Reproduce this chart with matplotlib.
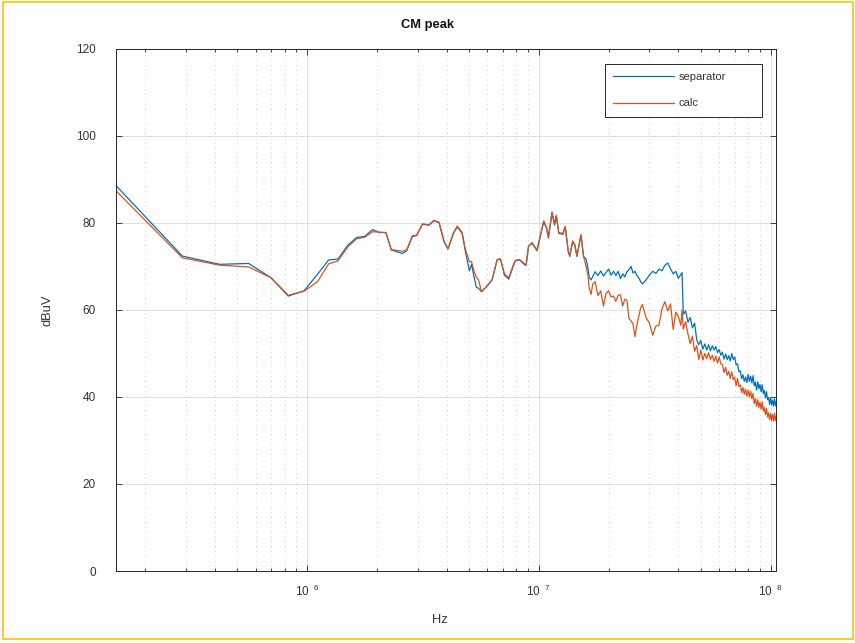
import matplotlib.pyplot as plt
from matplotlib.patches import Rectangle
from matplotlib.ticker import FixedLocator, FixedFormatter, LogLocator, NullFormatter

plt.rcParams['font.family'] = ['Liberation Sans', 'DejaVu Sans']
plt.rcParams['mathtext.fontset'] = 'custom'
plt.rcParams['mathtext.rm'] = 'Liberation Sans'

# frequency points in MHz
freq_mhz = [
    0.15, 0.29, 0.42, 0.56, 0.70, 0.83, 0.97, 1.11, 1.24, 1.36,
    1.50, 1.64, 1.77, 1.92, 2.05, 2.19, 2.31, 2.58, 2.69, 2.85,
    2.97, 3.15, 3.36, 3.53, 3.71, 3.90, 4.06, 4.28, 4.45, 4.67,
    4.82, 5.02, 5.13, 5.26, 5.38, 5.50, 5.66, 5.99, 6.29, 6.61,
    6.83, 7.11, 7.42, 7.69, 7.92, 8.27, 8.60, 8.81, 9.03, 9.35,
    9.82, 10.2, 10.5, 10.8, 11.0, 11.4, 11.7, 11.9, 12.2, 12.7,
    13.0, 13.4, 13.6, 14.0, 14.3, 14.6, 15.2, 15.6, 16.0, 16.3,
    16.5, 16.8, 17.1,
    17.5, 18, 18.5, 19, 19.5, 20, 20.5, 21, 21.5, 22,
    22.5, 23, 23.5, 24, 24.5, 25, 25.5, 26, 26.5, 27,
    27.5, 28,
    29, 30, 31, 32, 33, 34, 35, 36, 37, 38, 39, 40, 41, 41.5,
    42, 43, 44, 45, 46, 47, 48, 49, 50, 51, 52, 53, 54, 55, 56, 57, 58, 59,
    60, 61, 62, 63, 64, 65, 66, 67, 68, 69, 70, 71, 72, 73, 74, 75, 76, 77,
    78, 79, 80, 81, 82, 83, 84, 85, 86, 87, 88, 89, 90, 91, 92, 93, 94, 95,
    96, 97, 98, 99, 100, 101, 102, 103, 104, 105, 106,
]

separator = [
    88.6, 72.4, 70.5, 70.7, 67.4, 63.2, 64.4, 68.2, 71.5, 71.7,
    74.9, 76.7, 76.9, 78.5, 77.8, 77.8, 73.8, 73.0, 73.6, 76.9,
    77.1, 79.7, 79.5, 80.5, 80.1, 75.7, 74.0, 77.6, 79.1, 77.6,
    73.5, 69.0, 70.5, 67.5, 65.2, 65.0, 64.2, 65.5, 66.9, 71.5,
    71.7, 68.0, 67.1, 69.5, 71.3, 71.5, 70.6, 70.2, 74.6, 75.5,
    73.6, 77.4, 80.3, 78.8, 76.5, 82.3, 79.5, 81.6, 77.6, 77.4,
    79.1, 73.4, 72.3, 75.7, 74.9, 72.3, 77.2, 72.3, 71.7, 69.5,
    67.5, 66.9, 67.7,
    68.8, 67.9, 69.0, 67.8, 68.6, 69.4, 68.0, 68.9, 67.9, 68.9,
    67.2, 68.3, 67.6, 68.8, 69.3, 70.0, 68.5, 68.9, 67.9, 67.4,
    66.5, 66.0,
    66.9, 68.0, 68.9, 68.4, 69.4, 69.0, 70.3, 70.8, 69.5, 68.3, 68.9, 67.3, 68.2, 68.6,
    59.0, 59.8, 57.2, 58.3, 55.9, 57.0, 53.2, 52.0, 53.0, 51.0, 52.2, 50.8, 52.0, 50.6, 51.8, 50.8, 51.6, 50.2,
    50.9, 49.6, 50.3, 48.7, 49.9, 48.6, 49.5, 48.3, 50.0, 48.6, 49.2, 47.4, 47.6, 45.8, 46.0, 44.2, 45.1, 43.6,
    44.6, 43.3, 45.2, 43.6, 44.8, 43.2, 44.9, 42.6, 43.4, 41.6, 43.5, 41.9, 42.9, 41.2, 42.8, 40.8, 41.5, 39.8,
    41.2, 39.4, 39.9, 38.3, 39.8, 38.2, 39.3, 37.9, 39.6, 38.0, 38.9,
]

calc = [
    87.4, 72.0, 70.3, 69.9, 67.4, 63.4, 64.3, 66.5, 70.6, 71.3,
    74.5, 76.4, 76.7, 78.0, 77.9, 77.8, 73.9, 73.5, 73.8, 77.1,
    77.2, 79.8, 79.6, 80.6, 80.2, 75.9, 74.1, 77.7, 79.3, 77.8,
    74.0, 71.1, 71.1, 68.8, 67.5, 66.9, 64.2, 65.6, 67.0, 71.6,
    71.8, 68.3, 67.4, 69.8, 71.4, 71.6, 70.8, 70.3, 74.7, 75.3,
    73.8, 77.6, 80.5, 79.0, 76.8, 82.6, 79.8, 81.8, 77.8, 77.6,
    79.2, 73.6, 72.5, 75.9, 75.0, 72.5, 77.3, 72.3, 70.0, 68.0,
    65.0, 63.6, 66.0,
    66.5, 63.3, 64.4, 60.9, 63.8, 64.4, 63.0, 63.2, 62.0, 63.4,
    63.5, 60.9, 62.5, 62.2, 58.0, 57.5, 56.8, 53.9, 56.5, 58.5,
    60.5, 61.3,
    58.3, 57.0, 54.2, 56.3, 56.5, 60.3, 61.9, 59.8, 61.4, 55.5, 59.5, 58.5, 56.5, 60.0,
    55.6, 57.3, 54.5, 52.3, 54.0, 50.5, 51.8, 48.6, 50.8, 48.5, 50.0, 48.8, 50.2, 48.6, 49.6, 48.2, 49.4, 47.8,
    49.2, 47.6, 47.4, 45.6, 46.8, 45.0, 45.9, 44.2, 45.8, 44.0, 44.5, 42.6, 44.3, 42.4, 42.8, 41.0, 42.2, 40.6,
    41.8, 40.2, 41.6, 40.0, 41.3, 39.6, 40.8, 38.5, 39.6, 37.8, 39.4, 37.6, 38.8, 37.2, 38.9, 36.8, 37.6, 36.0,
    37.4, 35.4, 36.4, 34.8, 36.2, 34.6, 36.0, 34.5, 36.3, 34.6, 35.6,
]

y_ticks = [0, 20, 40, 60, 80, 100, 120]
x_ticks = [1e6, 1e7, 1e8]
x_tick_labels = [r'$\mathregular{10^{\ \ 6}}$', r'$\mathregular{10^{\ \ 7}}$', r'$\mathregular{10^{\ \ 8}}$']

txt = '#333333'
freq_hz = [f * 1e6 for f in freq_mhz]

fig = plt.figure(figsize=(8.55, 6.43), dpi=100)
ax = fig.add_axes([116 / 855, 1 - 571 / 643, 660 / 855, 522 / 643])

ax.plot(freq_hz, separator, color='#0072BD', lw=0.9, label='separator')
ax.plot(freq_hz, calc, color='#D95319', lw=0.9, label='calc')

ax.set_xscale('log')
ax.set_xlim(1.5e5, 1.055e8)
ax.set_ylim(0, 120)

ax.xaxis.set_major_locator(FixedLocator(x_ticks))
ax.xaxis.set_major_formatter(FixedFormatter(x_tick_labels))
ax.xaxis.set_minor_locator(LogLocator(base=10, subs=range(2, 10), numticks=20))
ax.xaxis.set_minor_formatter(NullFormatter())
ax.set_yticks(y_ticks)

ax.grid(True, which='major', color='#DEDEDE', lw=0.7, ls='-')
ax.grid(True, which='minor', axis='x', color='#CFCFCF', lw=0.7, ls=(0, (1, 4)))
ax.set_axisbelow(True)

ax.tick_params(which='both', direction='in', top=True, right=True, color='#262626', labelcolor=txt)
ax.tick_params(which='major', length=4.5, width=0.6, labelsize=8.5)
ax.tick_params(which='minor', length=2.5, width=0.6)
ax.tick_params(axis='y', pad=14.5)
ax.tick_params(axis='x', pad=9.5)
for s in ax.spines.values():
    s.set_color('#262626')
    s.set_linewidth(0.7)

leg = ax.legend(loc='upper left', bbox_to_anchor=(605 / 855, 1 - 122 / 643, 157 / 855, 58 / 643),
                bbox_transform=fig.transFigure, mode='expand', borderaxespad=0,
                fontsize=8, handlelength=5.45, handletextpad=0.45, labelspacing=1.45,
                borderpad=0.75, fancybox=False, framealpha=1)
leg.get_frame().set_edgecolor('#262626')
leg.get_frame().set_linewidth(0.7)
for t in leg.get_texts():
    t.set_color(txt)

fig.text(427 / 855, 1 - 25 / 643, 'CM peak', ha='center', va='center', fontsize=9.3,
         fontweight='bold', color='#111111')
fig.text(440 / 855, 1 - 620 / 643, 'Hz', ha='center', va='center', fontsize=9.3, color=txt)
fig.text(47 / 855, 1 - 310 / 643, 'dBuV', ha='center', va='center', rotation=90, fontsize=9.3, color=txt)

# gold frame around the whole picture
fig.patches.append(Rectangle((3 / 855, 4 / 643), 850 / 855, 637 / 643, transform=fig.transFigure,
                             fill=False, edgecolor='#FFC000', lw=1.2))

fig.savefig('out.png', dpi=100)
